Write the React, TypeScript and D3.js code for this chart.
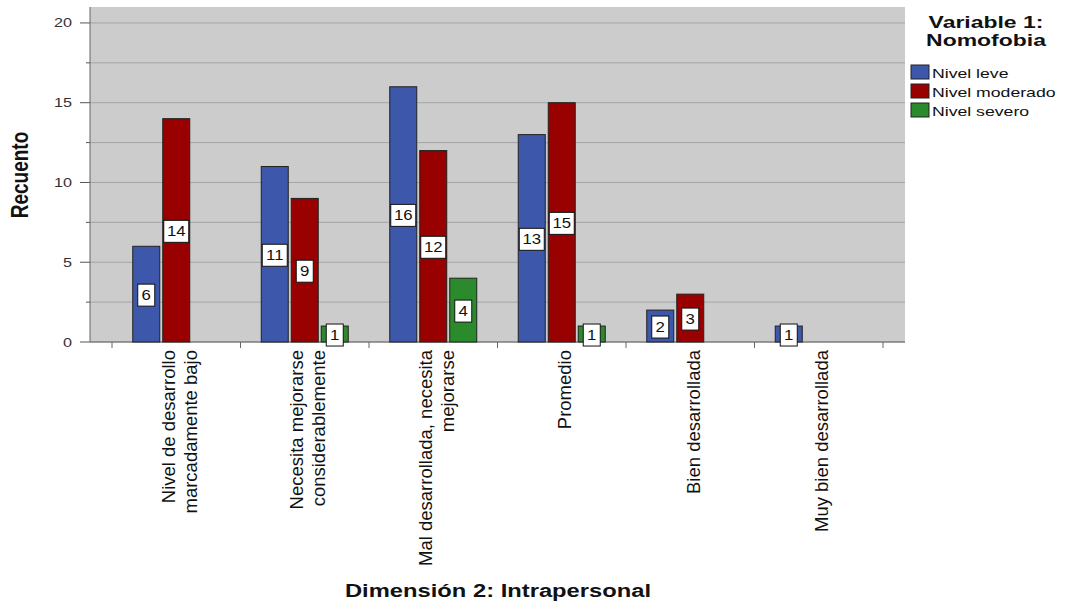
import React from "react";
import * as d3 from "d3";

const categories: string[][] = [
  ["Nivel de desarrollo", "marcadamente bajo"],
  ["Necesita mejorarse", "considerablemente"],
  ["Mal desarrollada, necesita", "mejorarse"],
  ["Promedio"],
  ["Bien desarrollada"],
  ["Muy bien desarrollada"],
];
const seriesNames = ["Nivel leve", "Nivel moderado", "Nivel severo"];
const leve = [6, 11, 16, 13, 2, 1];
const moderado = [14, 9, 12, 15, 3, 0];
const severo = [0, 1, 4, 1, 0, 0];
const yTicks = [0, 5, 10, 15, 20];
const colors = ["#3d57aa", "#990000", "#2b8a2b"];

export default function App() {
  const W = 1066, H = 605;
  const plotL = 90, plotR = 905, plotT = 7, plotB = 342;
  const y = d3.scaleLinear().domain([0, 21]).range([plotB, plotT]);
  const x = d3.scaleBand<number>().domain(d3.range(categories.length)).range([112, 883]).paddingInner(0).paddingOuter(0);
  const inner = d3.scaleBand<number>().domain([0, 1, 2]).range([-43.5, 43.5]).paddingInner(0.1);
  const series = [leve, moderado, severo];
  const grid = d3.range(0, 21.01, 2.5);
  const font = "Arial, 'Liberation Sans', sans-serif";
  const SX = 1.35;

  return (
    <svg width={W} height={H} style={{ position: "absolute", left: 0, top: 0, background: "#fff" }} fontFamily={font}>
      <rect x={plotL} y={plotT} width={plotR - plotL} height={plotB - plotT} fill="#cccccc" />
      {grid.map((g) => (
        <line key={g} x1={plotL} x2={plotR} y1={y(g)} y2={y(g)} stroke="#a5a5a5" strokeWidth={1} />
      ))}
      {grid.map((g) => (
        <line key={"t" + g} x1={g % 5 === 0 ? 80 : 86} x2={plotL} y1={y(g)} y2={y(g)} stroke="#555" strokeWidth={1} />
      ))}
      {yTicks.map((t) => (
        <text key={t} transform={`translate(72,${y(t) + 4.5}) scale(1.35,1)`} textAnchor="end" fontSize={12} fill="#333">{t}</text>
      ))}
      <line x1={plotL} x2={plotL} y1={plotT} y2={plotB} stroke="#666" />
      <line x1={plotL} x2={plotR} y1={plotB} y2={plotB} stroke="#666" />
      {d3.range(categories.length + 1).map((i) => {
        const px = 112 + i * x.bandwidth();
        return <line key={i} x1={px} x2={px} y1={plotB} y2={plotB + 6} stroke="#666" />;
      })}
      {series.map((vals, s) =>
        vals.map((v, i) => {
          if (v <= 0) return null;
          const cx = (x(i) as number) + x.bandwidth() / 2;
          const bx = cx + (inner(s) as number);
          return (
            <rect key={s + "-" + i} x={bx} y={y(v)} width={inner.bandwidth()} height={plotB - y(v)}
              fill={colors[s]} stroke="#222" strokeWidth={1} />
          );
        })
      )}
      {series.map((vals, s) =>
        vals.map((v, i) => {
          if (v <= 0) return null;
          const cx = (x(i) as number) + x.bandwidth() / 2;
          const bcx = cx + (inner(s) as number) + inner.bandwidth() / 2;
          const cy = y(v / 2) + 1;
          const w = String(v).length > 1 ? 25 : 17;
          return (
            <g key={"l" + s + "-" + i}>
              <rect x={bcx - w / 2} y={cy - 11} width={w} height={22} fill="#fff" stroke="#111" strokeWidth={1} />
              <text transform={`translate(${bcx},${cy + 5}) scale(1.2,1)`} textAnchor="middle" fontSize={14} fill="#111">{v}</text>
            </g>
          );
        })
      )}
      {categories.map((lines, i) => {
        const cx = (x(i) as number) + x.bandwidth() / 2;
        const n = lines.length;
        return lines.map((ln, j) => {
          const lx = cx + (j - (n - 1) / 2) * 22 + 9.5;
          return (
            <text key={i + "-" + j} transform={`translate(${lx},350) rotate(-90)`} textAnchor="end" fontSize={18.5} fill="#111">{ln}</text>
          );
        });
      })}
      <text transform="translate(28,175) rotate(-90) scale(1,1.22)" textAnchor="middle" fontSize={19} fontWeight="bold" fill="#111">Recuento</text>
      <text transform={`translate(498,597) scale(1.32,1)`} textAnchor="middle" fontSize={18} fontWeight="bold" fill="#111">Dimensión 2: Intrapersonal</text>
      <text transform={`translate(986,28) scale(${SX},1)`} textAnchor="middle" fontSize={17} fontWeight="bold" fill="#111">Variable 1:</text>
      <text transform={`translate(986,46) scale(${SX},1)`} textAnchor="middle" fontSize={17} fontWeight="bold" fill="#111">Nomofobia</text>
      {seriesNames.map((n, k) => (
        <g key={n}>
          <rect x={911} y={65 + k * 19} width={18} height={14} fill={colors[k]} stroke="#222" />
          <text transform={`translate(932,${77.5 + k * 19}) scale(1.38,1)`} fontSize={12.8} fill="#111">{n}</text>
        </g>
      ))}
    </svg>
  );
}
